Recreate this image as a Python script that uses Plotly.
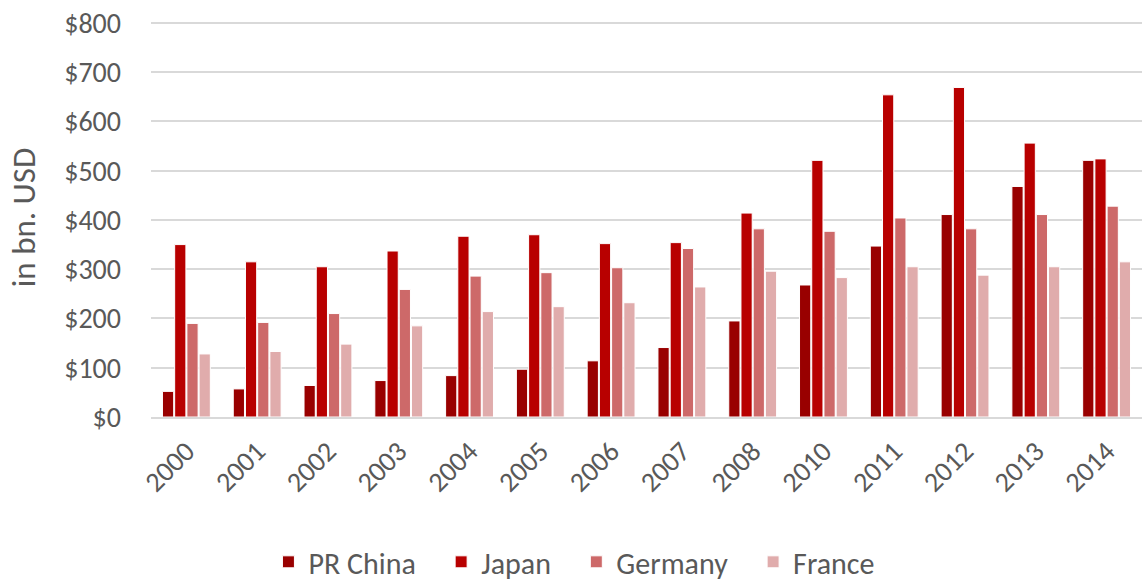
import plotly.graph_objects as go

years = ["2000", "2001", "2002", "2003", "2004", "2005", "2006", "2007",
         "2008", "2010", "2011", "2012", "2013", "2014"]
china = [52, 57, 64, 74, 84, 97, 114, 141, 195, 268, 347, 411, 468, 521]
japan = [350, 315, 305, 337, 367, 370, 352, 354, 414, 521, 654, 669, 556, 524]
germany = [190, 192, 210, 259, 286, 293, 303, 342, 382, 377, 404, 382, 411, 428]
france = [128, 133, 148, 185, 214, 224, 232, 264, 296, 283, 305, 288, 305, 315]
y_ticks = [0, 100, 200, 300, 400, 500, 600, 700, 800]
y_ticktext = ["$" + str(v) for v in y_ticks]

series = [
    ("PR China", china, "#990000"),
    ("Japan", japan, "#b80000"),
    ("Germany", germany, "#cd6969"),
    ("France", france, "#e0acac"),
]

fig = go.Figure()
for i, (name, vals, col) in enumerate(series):
    pad = "\u00a0\u00a0\u00a0" if i < len(series) - 1 else ""
    fig.add_trace(go.Bar(
        x=years, y=vals, name=name + pad,
        marker=dict(color=col, line=dict(color="white", width=1)),
    ))

font = "Carlito, Lato, 'Open Sans', sans-serif"
grey = "#595959"
fig.update_layout(
    width=1142, height=581,
    margin=dict(l=151, r=0, t=18, b=164, autoexpand=False),
    paper_bgcolor="white", plot_bgcolor="white",
    barmode="group", bargap=0.31, bargroupgap=0.08,
    font=dict(family=font, size=28, color=grey),
    showlegend=True,
    legend=dict(orientation="h", xref="container", yref="container",
                x=0.503, xanchor="center", y=0.033, yanchor="middle",
                font=dict(size=30, color=grey),
                itemwidth=30, tracegroupgap=0),
)
fig.update_yaxes(
    range=[0, 810], tickmode="array", tickvals=y_ticks, ticktext=y_ticktext,
    automargin=False, ticklabeloverflow="allow",
    showgrid=True, gridcolor="#d9d9d9", gridwidth=1.5,
    zeroline=False, showline=False, ticks="",
    ticklabelstandoff=29,
    tickfont=dict(size=28, color=grey),
    title=dict(text="in bn. USD", font=dict(size=33, color=grey), standoff=18),
)
fig.update_xaxes(
    type="category", tickangle=-45, showgrid=False, zeroline=False,
    automargin=False, ticklabeloverflow="allow",
    showline=True, linecolor="#d9d9d9", linewidth=1.5, ticks="",
    ticklabelstandoff=5,
    tickfont=dict(size=28, color=grey),
)

fig.write_html("out.html", config={"displayModeBar": False},
               post_script="document.body.style.margin='0px';")
